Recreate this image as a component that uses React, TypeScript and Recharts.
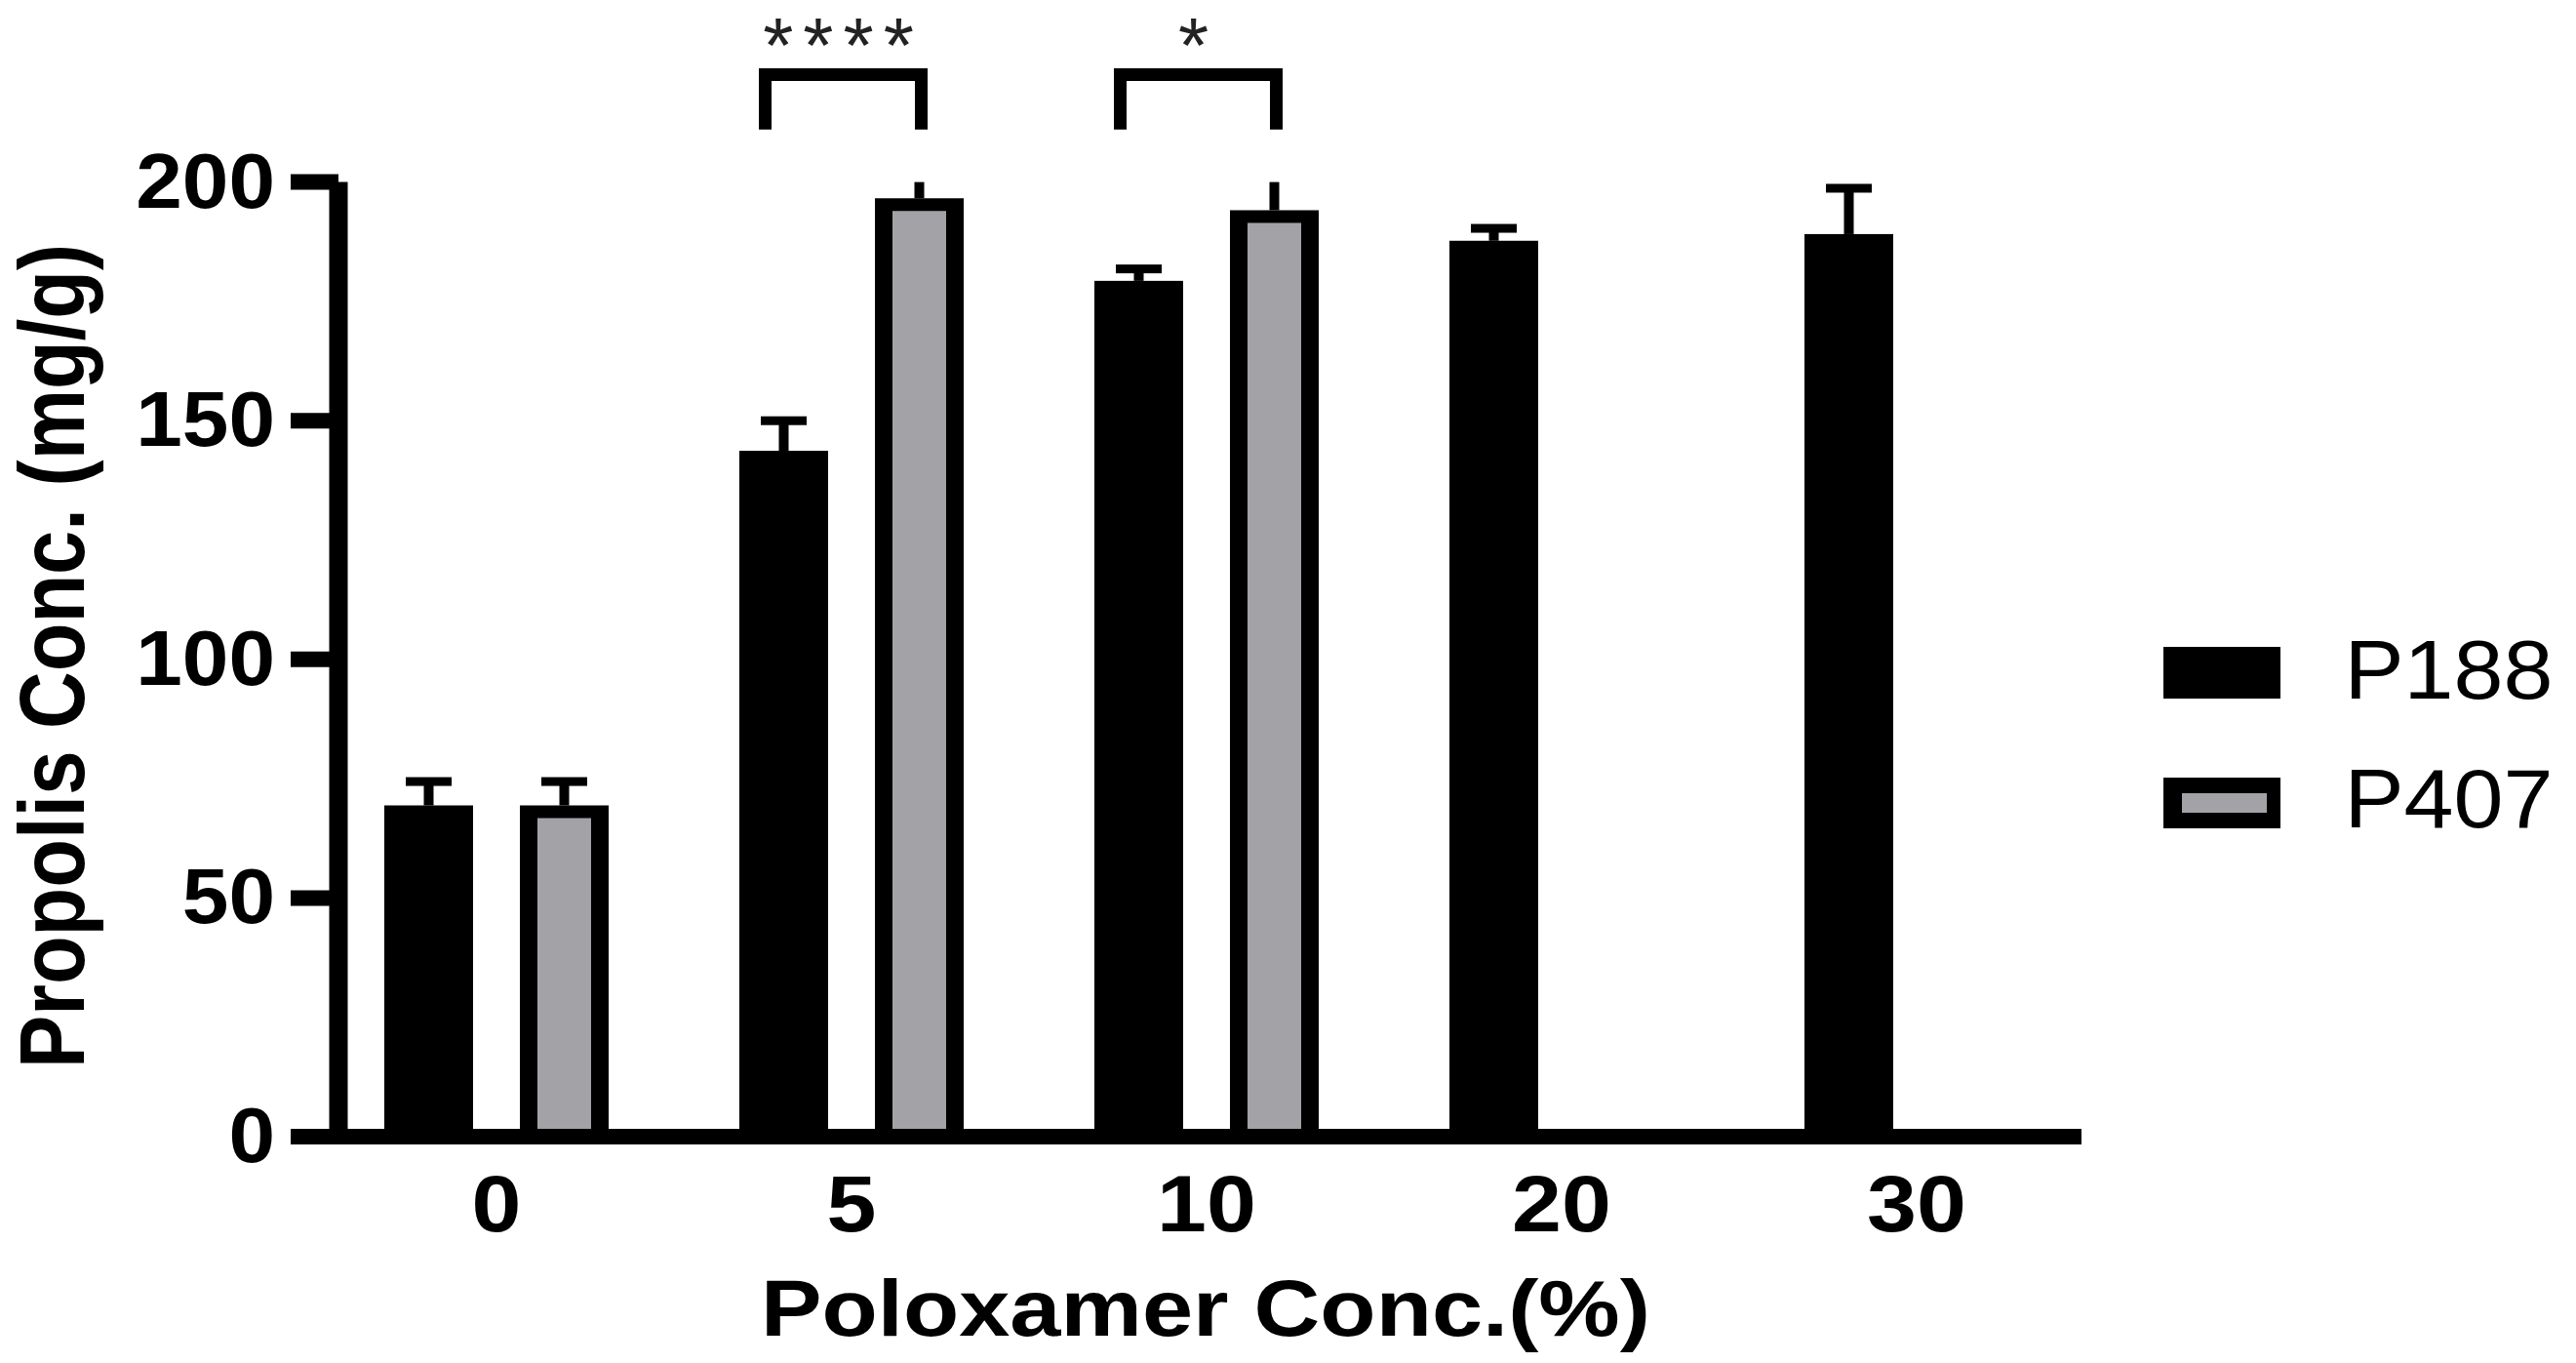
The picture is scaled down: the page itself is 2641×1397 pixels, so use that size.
import React from 'react';
import { BarChart, Bar, XAxis, YAxis, Legend } from 'recharts';

// values (mean and SD, mg/g)
const categories = ['0', '5', '10', '20', '30'];
const p188Mean = [69.4, 143.7, 179.3, 187.7, 189.1];
const p188Sd = [5.0, 6.3, 2.5, 2.6, 9.6];
const p407Mean = [69.4, 196.6, 194.1, null, null];
const p407Sd = [5.0, 4.5, 7.0, null, null];
const significance = ['', '****', '*', '', ''];
const yTicks = [0, 50, 100, 150, 200];
const seriesNames = ['P188', 'P407'];

const data = categories.map((c, i) => ({
  conc: c,
  p188: p188Mean[i],
  p188Sd: p188Sd[i],
  p407: p407Mean[i],
  p407Sd: p407Sd[i],
  sig: significance[i],
}));

const FONT = '"Liberation Sans", Arial, Helvetica, sans-serif';
const GRAY = '#a3a2a7';
const Y_MAX = 200;
const BAR_SIZE = 91;
const BAR_GAP = 48;
const BRACKET_TOP = 222.5;
const BRACKET_LEG = 211;
const STAR_BASE = 223;

function errorMarks(cx: number, top: number, bottom: number, unit: number, sd: number | null) {
  if (sd == null) return null;
  const clipTop = bottom - Y_MAX * unit;
  const raw = top - sd * unit;
  const end = Math.max(raw, clipTop);
  return (
    <g>
      <rect x={cx - 5} y={end} width={10} height={top - end} fill="#000" />
      {raw - 4.5 >= clipTop && <rect x={cx - 23.5} y={raw - 4.5} width={47} height={9} fill="#000" />}
    </g>
  );
}

const P188Shape = (props: any) => {
  const { x, y, width, height, payload } = props;
  const v = payload.p188;
  if (v == null || !height) return <g />;
  const unit = height / v;
  const bottom = y + height;
  return (
    <g>
      <rect x={x} y={y} width={width} height={height} fill="#000" />
      {errorMarks(x + width / 2, y, bottom, unit, payload.p188Sd)}
    </g>
  );
};

const P407Shape = (props: any) => {
  const { x, y, width, height, payload } = props;
  const v = payload.p407;
  if (v == null || !height) return <g />;
  const unit = height / v;
  const bottom = y + height;
  const py = (val: number) => bottom - val * unit;
  const cx = x + width / 2;
  let bracket = null;
  if (payload.sig) {
    const right = cx + 2;
    const left = cx - (BAR_SIZE + BAR_GAP) - 19;
    bracket = (
      <g>
        <path
          d={`M${left},${py(BRACKET_LEG)} V${py(BRACKET_TOP)} H${right} V${py(BRACKET_LEG)}`}
          stroke="#000"
          strokeWidth={13}
          fill="none"
        />
        <text
          x={(left + right) / 2}
          y={py(STAR_BASE)}
          textAnchor="middle"
          fontFamily={FONT}
          fontSize={80}
          letterSpacing={10}
          fill="#222"
        >
          {payload.sig}
        </text>
      </g>
    );
  }
  return (
    <g>
      <rect x={x} y={y} width={width} height={height} fill="#000" />
      <rect x={x + 18} y={y + 13} width={width - 36} height={Math.max(0, height - 21)} fill={GRAY} />
      {errorMarks(cx, y, bottom, unit, payload.p407Sd)}
      {bracket}
    </g>
  );
};

const YTick = (props: any) => {
  const { x, y, payload } = props;
  const s = String(payload.value);
  return (
    <text x={x} y={y + 26} textAnchor="end" fontFamily={FONT} fontWeight="bold" fontSize={80}
      textLength={s.length * 47.6} lengthAdjust="spacingAndGlyphs" fill="#000">
      {s}
    </text>
  );
};

const XTick = (props: any) => {
  const { x, y, payload } = props;
  const s = String(payload.value);
  return (
    <text x={x} y={y + 97} textAnchor="middle" fontFamily={FONT} fontWeight="bold" fontSize={81}
      textLength={s.length * 50.9} lengthAdjust="spacingAndGlyphs" fill="#000">
      {s}
    </text>
  );
};

const renderLegend = () => (
  <svg width={491} height={300} style={{ display: 'block', overflow: 'visible' }}>
    <rect x={68} y={63} width={120} height={53} fill="#000" />
    <text x={253.5} y={116} fontFamily={FONT} fontSize={85} textLength={214}
      lengthAdjust="spacingAndGlyphs" fill="#000">
      {seriesNames[0]}
    </text>
    <rect x={68} y={197} width={120} height={52} fill="#000" />
    <rect x={87} y={213} width={87} height={20} fill={GRAY} />
    <text x={253.5} y={248} fontFamily={FONT} fontSize={85} textLength={214}
      lengthAdjust="spacingAndGlyphs" fill="#000">
      {seriesNames[1]}
    </text>
  </svg>
);

export default function App() {
  return (
    <div style={{ position: 'absolute', left: 0, top: 0, width: 2641, height: 1397, background: '#fff' }}>
      <BarChart
        width={2641}
        height={1397}
        data={data}
        margin={{ top: 186.6, right: 507, bottom: 0, left: 0 }}
        barSize={BAR_SIZE}
        barGap={BAR_GAP}
      >
        <Bar dataKey="p188" name={seriesNames[0]} fill="#000" shape={P188Shape} isAnimationActive={false} />
        <Bar dataKey="p407" name={seriesNames[1]} fill={GRAY} shape={P407Shape} isAnimationActive={false} />
        <XAxis
          dataKey="conc"
          height={232}
          padding={{ left: -20, right: -13 }}
          axisLine={{ stroke: '#000', strokeWidth: 16 }}
          tickLine={false}
          tickSize={0}
          tickMargin={0}
          tick={<XTick />}
          interval={0}
          label={{
            content: () => (
              <text x={1236} y={1369} textAnchor="middle" fontFamily={FONT} fontWeight="bold"
                fontSize={82} textLength={912} lengthAdjust="spacingAndGlyphs" fill="#000">
                Poloxamer Conc.(%)
              </text>
            ),
          }}
        />
        <YAxis
          width={347}
          domain={[0, Y_MAX]}
          ticks={yTicks}
          interval={0}
          axisLine={{ stroke: '#000', strokeWidth: 19 }}
          tickLine={{ stroke: '#000', strokeWidth: 16 }}
          tickSize={49}
          tickMargin={16}
          tick={<YTick />}
          label={{
            content: () => (
              <text transform="translate(86,672.5) rotate(-90) scale(1,1.15)" textAnchor="middle"
                fontFamily={FONT} fontWeight="bold" fontSize={82} textLength={845}
                lengthAdjust="spacingAndGlyphs" fill="#000">
                Propolis Conc. (mg/g)
              </text>
            ),
          }}
        />
        <Legend
          content={renderLegend}
          layout="horizontal"
          verticalAlign="middle"
          align="center"
          wrapperStyle={{ left: 2150, top: 600, width: 491, height: 300 }}
        />
      </BarChart>
    </div>
  );
}
